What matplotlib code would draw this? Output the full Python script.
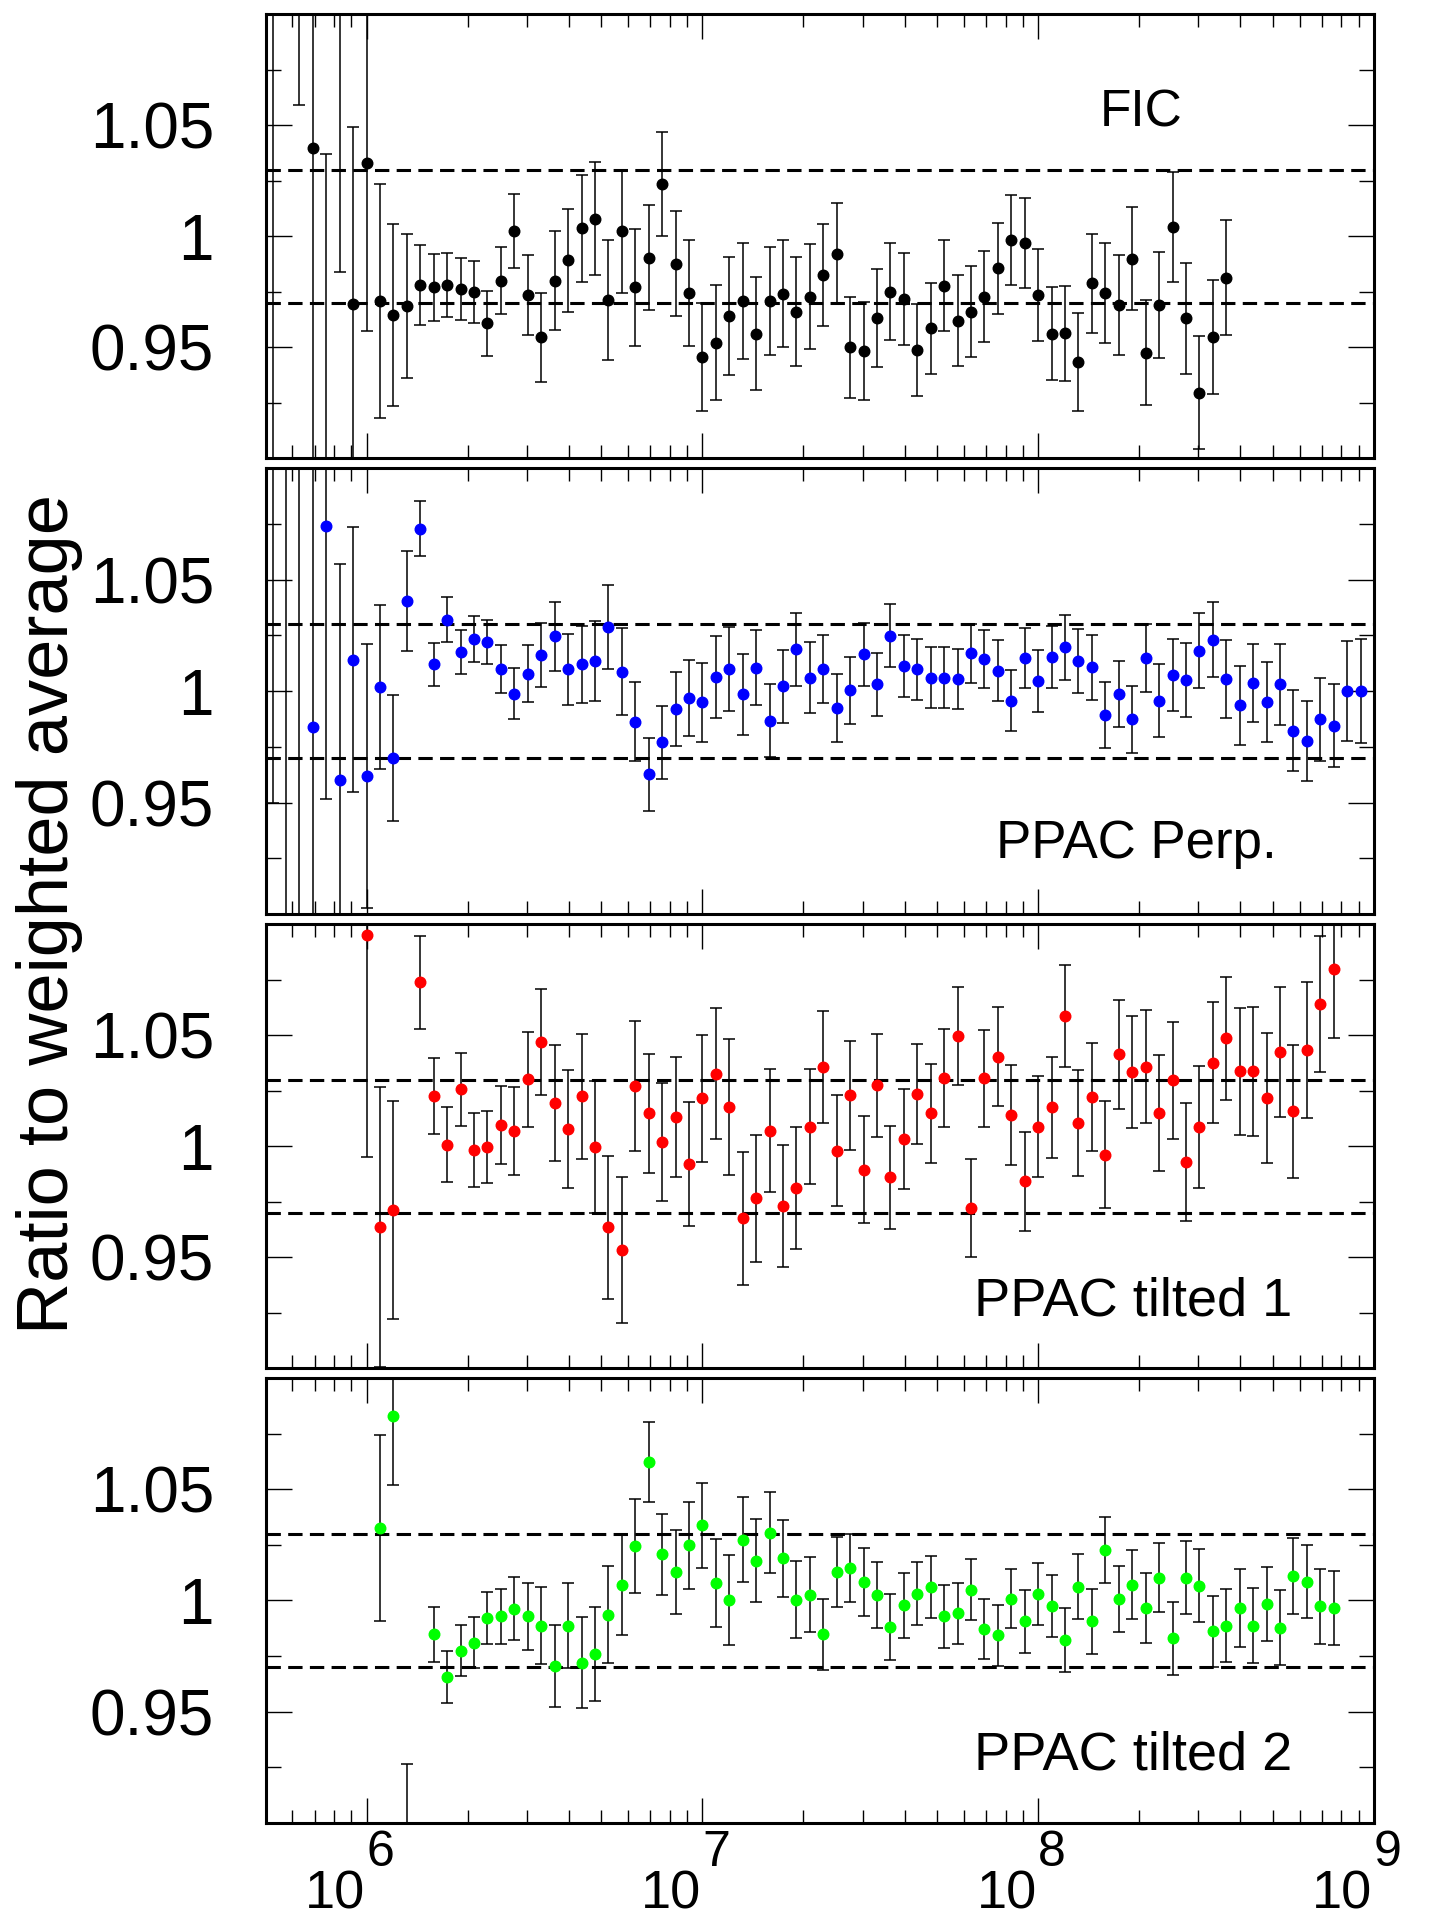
import numpy as np
import matplotlib
matplotlib.use("Agg")
import matplotlib.pyplot as plt
from matplotlib.ticker import FixedLocator, MultipleLocator, LogLocator, NullFormatter, FixedFormatter

plt.rcParams['font.family'] = ['Liberation Sans', 'DejaVu Sans']

# ---------------- data ----------------
BIN_STEP = 0.04          # bins: 25 per decade, centres at 10**(start + k*0.04)

fic_start = 5.72
fic_val = [0.85, np.nan, 1.16, 1.0395, 0.85, 1.15, 0.9693, 1.0331, 0.9708, 0.9645,
           0.9686, 0.9778, 0.9770, 0.9780, 0.9763, 0.9748, 0.9608, 0.9800, 1.0023, 0.9734,
           0.9545, 0.9800, 0.9891, 1.0035, 1.0079, 0.9711, 1.0023, 0.9770, 0.9903, 1.0233,
           0.9876, 0.9743, 0.9456, 0.9521, 0.9640, 0.9708, 0.9561, 0.9708, 0.9741, 0.9660,
           0.9728, 0.9824, 0.9920, 0.9500, 0.9483, 0.9630, 0.9750, 0.9716, 0.9488, 0.9585,
           0.9776, 0.9620, 0.9660, 0.9728, 0.9855, 0.9983, 0.9970, 0.9735, 0.9561, 0.9563,
           0.9434, 0.9788, 0.9743, 0.9690, 0.9899, 0.9476, 0.9690, 1.0043, 0.9630, 0.9296,
           0.9545, 0.9813]
fic_err = [0.30, np.nan, 0.101, 0.20, 0.187, 0.166, 0.080, 0.0758, 0.0525, 0.041,
           0.0325, 0.018, 0.015, 0.0143, 0.014, 0.014, 0.0146, 0.015, 0.0167, 0.018,
           0.020, 0.0223, 0.0233, 0.0242, 0.0255, 0.027, 0.0277, 0.0263, 0.0237, 0.0234,
           0.0237, 0.0238, 0.0244, 0.0259, 0.0266, 0.0263, 0.0255, 0.0244, 0.0242, 0.0244,
           0.0236, 0.023, 0.0227, 0.0227, 0.022, 0.022, 0.0217, 0.0208, 0.0206, 0.0205,
           0.0205, 0.0204, 0.0205, 0.0205, 0.0205, 0.0203, 0.0203, 0.0207, 0.021, 0.0214,
           0.022, 0.0222, 0.0225, 0.0227, 0.0233, 0.0237, 0.024, 0.0248, 0.0251, 0.0255,
           0.0257, 0.0258]

perp_start = 5.72
perp_val = [1.12, 1.13, 0.87, 0.9839, 1.0742, 0.9602, 1.0141, 0.9620, 1.0017, 0.9701,
            1.0404, 1.0729, 1.0120, 1.0321, 1.0176, 1.0235, 1.0220, 1.0099, 0.9989, 1.0079,
            1.0163, 1.0246, 1.0098, 1.0120, 1.0135, 1.0288, 1.0087, 0.9863, 0.9626, 0.9770,
            0.9919, 0.9969, 0.9951, 1.0064, 1.0099, 0.9985, 1.0105, 0.9868, 1.0022, 1.0188,
            1.0060, 1.0098, 0.9924, 1.0004, 1.0166, 1.0031, 1.0248, 1.0113, 1.0099, 1.0060,
            1.0060, 1.0055, 1.0170, 1.0144, 1.0091, 0.9956, 1.0147, 1.0045, 1.0152, 1.0197,
            1.0135, 1.0107, 0.9893, 0.9986, 0.9874, 1.0147, 0.9958, 1.0072, 1.0052, 1.0182,
            1.0231, 1.0055, 0.9937, 1.0037, 0.9951, 1.0030, 0.9823, 0.9777, 0.9873, 0.9845,
            1.0001, 1.0001]
perp_err = [0.17, 0.26, 0.26, 0.20, 0.1228, 0.097, 0.0595, 0.0591, 0.0368, 0.0283,
            0.0225, 0.0124, 0.0097, 0.0100, 0.0097, 0.0103, 0.0098, 0.0109, 0.0116, 0.0128,
            0.0143, 0.0155, 0.0160, 0.0172, 0.0180, 0.0190, 0.0195, 0.0177, 0.0162, 0.0162,
            0.0166, 0.0170, 0.0177, 0.0184, 0.0190, 0.0180, 0.0169, 0.0165, 0.0163, 0.0163,
            0.0160, 0.0152, 0.0153, 0.0150, 0.0142, 0.0142, 0.0141, 0.0138, 0.0137, 0.0136,
            0.0136, 0.0136, 0.0132, 0.0132, 0.0137, 0.0137, 0.0135, 0.0138, 0.0140, 0.0145,
            0.0144, 0.0147, 0.0150, 0.0148, 0.0150, 0.0153, 0.0162, 0.0163, 0.0166, 0.0168,
            0.0167, 0.0174, 0.0177, 0.0176, 0.0181, 0.0180, 0.0183, 0.0180, 0.0185, 0.0187,
            0.0224, 0.0232]

t1_start = 6.00
t1_val = [1.095, 0.9638, 0.9713, np.nan, 1.0739, 1.0226, 1.0008, 1.0256, 0.9983, 0.9997,
          1.0095, 1.0068, 1.0302, 1.0471, 1.0196, 1.0078, 1.0226, 0.9995, 0.9635, 0.9532,
          1.0271, 1.0148, 1.0020, 1.0133, 0.9920, 1.0216, 1.0327, 1.0176, 0.9676, 0.9766,
          1.0071, 0.9732, 0.9811, 1.0087, 1.0357, 0.9980, 1.0229, 0.9894, 1.0275, 0.9860,
          1.0033, 1.0237, 1.0148, 1.0309, 1.0498, 0.9721, 1.0306, 1.0404, 1.0140, 0.9842,
          1.0089, 1.0176, 1.0585, 1.0106, 1.0222, 0.9962, 1.0415, 1.0335, 1.0359, 1.0151,
          1.0297, 0.9928, 1.0086, 1.0377, 1.0486, 1.0338, 1.0338, 1.0217, 1.0425, 1.0157,
          1.0433, 1.0641, 1.0799]
t1_err = [0.100, 0.063, 0.049, np.nan, 0.021, 0.017, 0.0171, 0.0163, 0.0166, 0.0162,
          0.0176, 0.0198, 0.0213, 0.0239, 0.0261, 0.0264, 0.0282, 0.0297, 0.0321, 0.0328,
          0.0293, 0.0268, 0.0266, 0.0271, 0.0281, 0.0285, 0.0296, 0.0306, 0.0300, 0.0285,
          0.0275, 0.0275, 0.0274, 0.0259, 0.0251, 0.0250, 0.0246, 0.0241, 0.0231, 0.0232,
          0.0224, 0.0225, 0.0222, 0.0220, 0.0221, 0.0220, 0.0217, 0.0222, 0.0225, 0.0224,
          0.0226, 0.0227, 0.0230, 0.0239, 0.0243, 0.0242, 0.0245, 0.0253, 0.0256, 0.0261,
          0.0264, 0.0266, 0.0274, 0.0273, 0.0278, 0.0286, 0.0290, 0.0294, 0.0293, 0.0301,
          0.0305, 0.0306, 0.0310]

t2_start = 6.04
t2_val = [1.0326, 1.0831, 0.88, np.nan, 0.9848, 0.9656, 0.9774, 0.9810, 0.9921, 0.9928,
          0.9963, 0.9928, 0.9886, 0.9705, 0.9886, 0.9720, 0.9759, 0.9936, 1.0069, 1.0246,
          1.0624, 1.0208, 1.0129, 1.0249, 1.0339, 1.0079, 1.0004, 1.0273, 1.0178, 1.0306,
          1.0190, 1.0004, 1.0026, 0.9848, 1.0128, 1.0148, 1.0084, 1.0024, 0.9881, 0.9978,
          1.0031, 1.0061, 0.9928, 0.9943, 1.0048, 0.9872, 0.9844, 1.0008, 0.9906, 1.0029,
          0.9974, 0.9820, 1.0063, 0.9906, 1.0229, 1.0007, 1.0072, 0.9966, 1.0103, 0.9829,
          1.0103, 1.0067, 0.9861, 0.9887, 0.9966, 0.9887, 0.9984, 0.9878, 1.0110, 1.0085,
          0.9974, 0.9966]
t2_err = [0.042, 0.031, 0.0466, np.nan, 0.0123, 0.0118, 0.0116, 0.0116, 0.0117, 0.0123,
          0.0141, 0.0149, 0.0174, 0.0185, 0.0191, 0.0204, 0.0210, 0.0218, 0.0225, 0.0212,
          0.0181, 0.0181, 0.0188, 0.0195, 0.0192, 0.0199, 0.0203, 0.0191, 0.0187, 0.0181,
          0.0172, 0.0172, 0.0170, 0.0159, 0.0159, 0.0153, 0.0154, 0.0149, 0.0149, 0.0146,
          0.0143, 0.0139, 0.0141, 0.0138, 0.0138, 0.0134, 0.0137, 0.0134, 0.0142, 0.0141,
          0.0140, 0.0144, 0.0148, 0.0148, 0.0149, 0.0149, 0.0155, 0.0159, 0.0156, 0.0163,
          0.0163, 0.0163, 0.0160, 0.0164, 0.0174, 0.0170, 0.0167, 0.0170, 0.0170, 0.0166,
          0.0170, 0.0166]

panel_names = ["FIC", "PPAC Perp.", "PPAC tilted 1", "PPAC tilted 2"]
band_levels = [0.97, 1.03]
ytick_values = [0.95, 1.0, 1.05]
ytick_labels = ["0.95", "1", "1.05"]
xtick_exponents = [6, 7, 8, 9]
y_title = "Ratio to weighted average"

# ---------------- figure ----------------
W, H = 1441, 1917
fig = plt.figure(figsize=(W / 100, H / 100), dpi=100)

left_px, right_px = 265.5, 1374.0
panels_px = [(14.0, 458.3), (468.3, 914.0), (924.3, 1368.3), (1378.3, 1822.7)]

series = [
    (fic_start, fic_val, fic_err, "black"),
    (perp_start, perp_val, perp_err, "#0000ff"),
    (t1_start, t1_val, t1_err, "#ff0000"),
    (t2_start, t2_val, t2_err, "#00ff00"),
]
# label anchor (axes fraction, left / baseline)
label_pos = [(0.7530, 0.746), (0.6590, 0.125), (0.6395, 0.120), (0.6395, 0.1186)]
label_size = [37, 38, 39, 39]

axes = []
for i, ((top, bot), (start, vals, errs, col)) in enumerate(zip(panels_px, series)):
    ax = fig.add_axes([left_px / W, 1 - bot / H, (right_px - left_px) / W, (bot - top) / H])
    axes.append(ax)
    ax.set_xscale("log")
    ax.set_xlim(5e5, 1e9)
    ax.set_ylim(0.9, 1.1)

    for lvl in band_levels:
        ax.axhline(lvl, color="black", lw=2.2, linestyle=(0, (4.7, 2.4)), zorder=1)

    v = np.asarray(vals, dtype=float)
    e = np.asarray(errs, dtype=float)
    x = 10 ** (start + BIN_STEP * np.arange(len(v)))
    ok = ~np.isnan(v)
    ax.errorbar(x[ok], v[ok], yerr=e[ok], fmt="o", ms=7.6, color=col, mec=col,
                ecolor="black", elinewidth=1.1, capsize=4.5, capthick=1.1, zorder=3)

    # ticks
    ax.yaxis.set_major_locator(FixedLocator(ytick_values))
    ax.yaxis.set_major_formatter(FixedFormatter(ytick_labels))
    ax.yaxis.set_minor_locator(MultipleLocator(0.025))
    ax.xaxis.set_major_locator(LogLocator(base=10, numticks=20))
    ax.xaxis.set_minor_locator(LogLocator(base=10, subs=np.arange(2, 10), numticks=100))
    ax.xaxis.set_major_formatter(NullFormatter())
    ax.xaxis.set_minor_formatter(NullFormatter())
    ax.tick_params(which="both", direction="in", top=True, right=True, width=1.0)
    ax.yaxis.set_tick_params(which="major", length=19, pad=37, labelsize=46)
    ax.yaxis.set_tick_params(which="minor", length=11)
    ax.xaxis.set_tick_params(which="major", length=18)
    ax.xaxis.set_tick_params(which="minor", length=9.6)
    for sp in ax.spines.values():
        sp.set_linewidth(2.2)

    lx, ly = label_pos[i]
    ax.text(lx, ly, panel_names[i], transform=ax.transAxes, ha="left", va="baseline",
            fontsize=label_size[i])

# x tick labels on the bottom panel: 10 with a large exponent
axb = axes[-1]
for d in xtick_exponents:
    axb.annotate("10", xy=(10.0 ** d, 0), xycoords=("data", "axes fraction"),
                 xytext=(-1, -62), textcoords="offset points", ha="right", va="baseline",
                 fontsize=39, annotation_clip=False)
    axb.annotate(str(d), xy=(10.0 ** d, 0), xycoords=("data", "axes fraction"),
                 xytext=(0, -31), textcoords="offset points", ha="left", va="baseline",
                 fontsize=36, annotation_clip=False)

fig.text(50 / W, 1 - 914 / H, y_title, rotation=90, ha="center", va="center", fontsize=52)

fig.savefig("out.png", dpi=100, facecolor="white")
